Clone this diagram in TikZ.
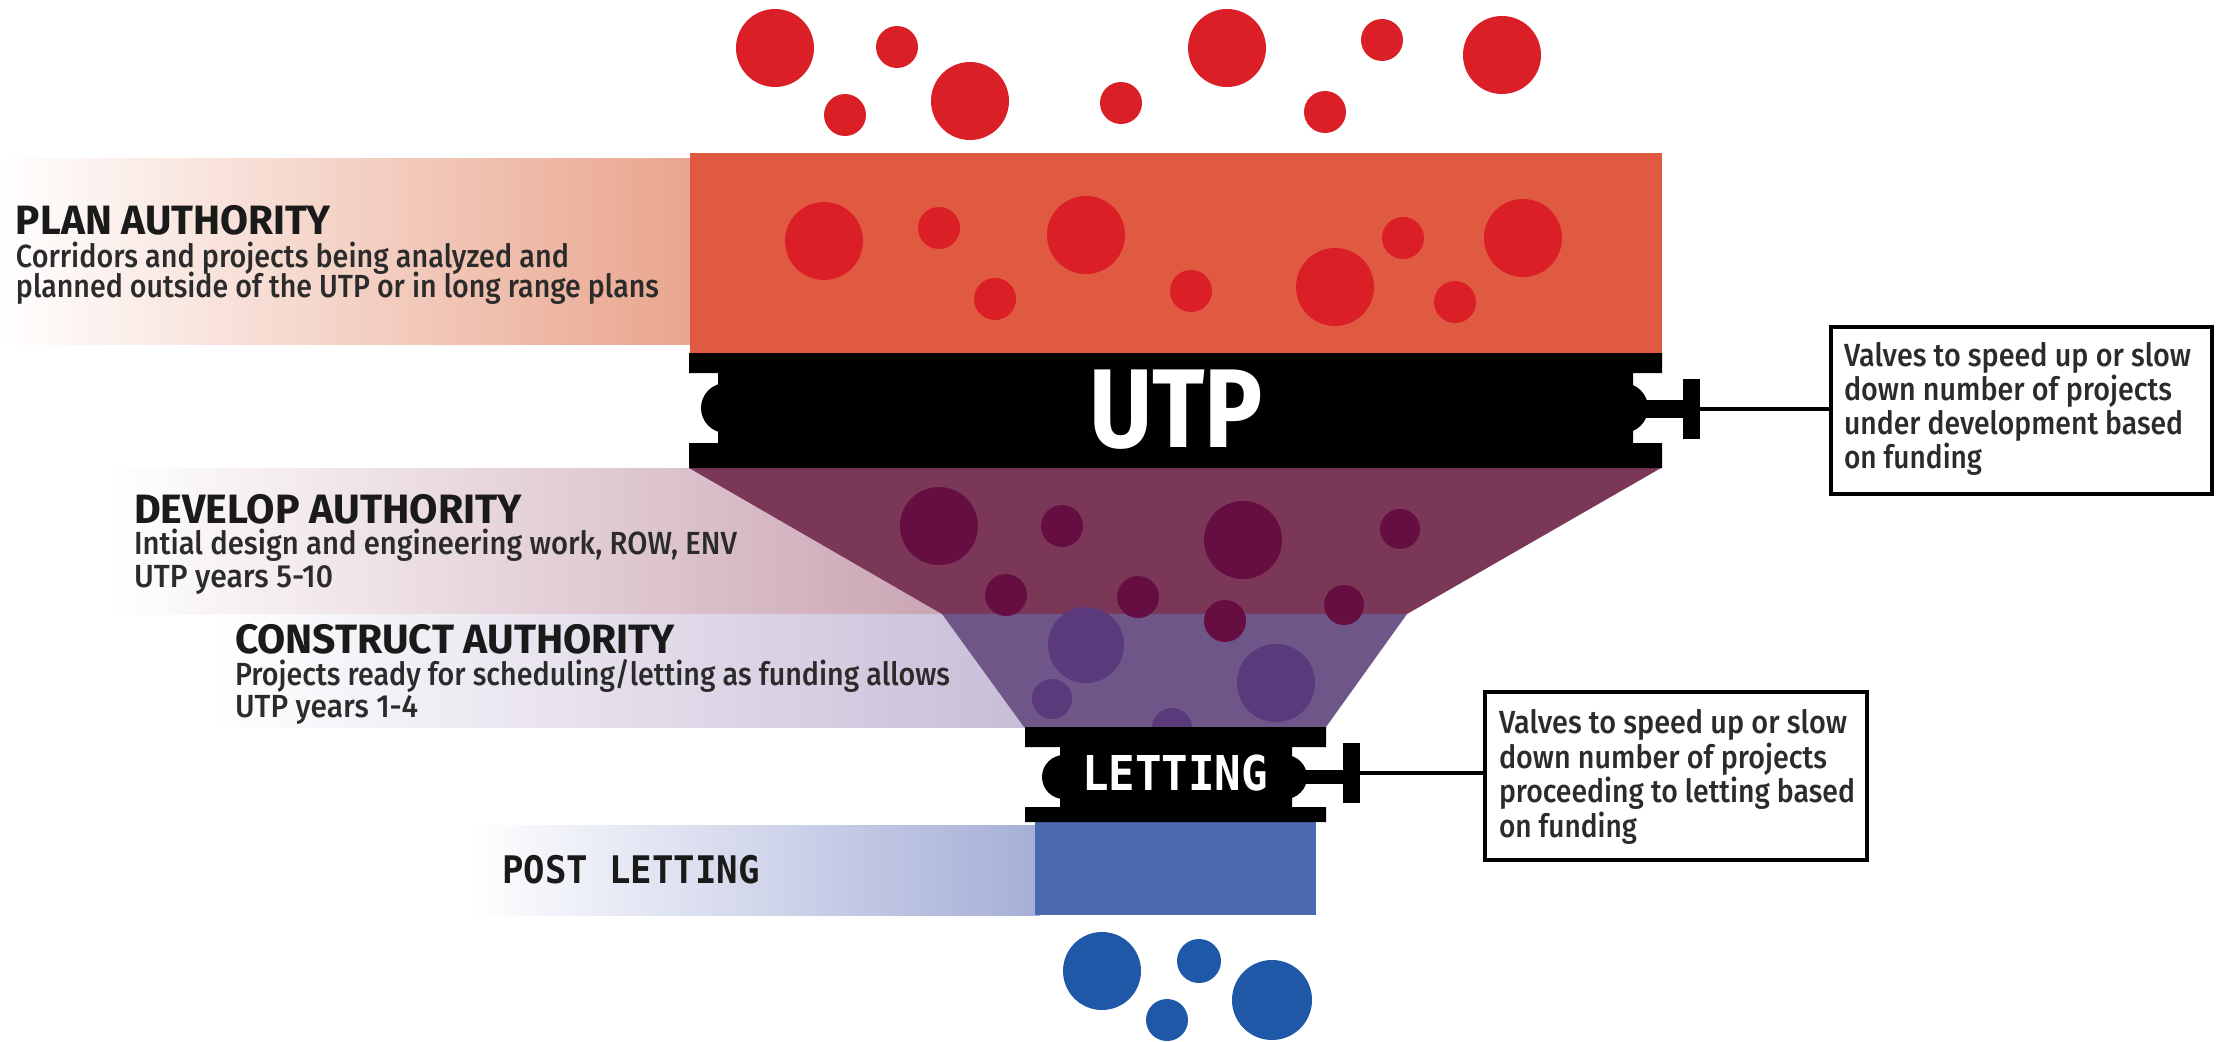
\documentclass[tikz,border=0pt]{standalone}
\usepackage{fontspec}
\setmainfont{Fira Sans}
\newfontfamily\bodyf{Fira Sans Medium}
\newfontfamily\monof{DejaVu Sans Mono}
\usepackage{graphicx}
\newcommand{\fitw}[2]{\resizebox{#1pt}{\height}{#2}}
\definecolor{planstrip}{HTML}{E9A48C}
\definecolor{devstrip}{HTML}{C9A3B2}
\definecolor{constrip}{HTML}{C8BDD7}
\definecolor{poststrip}{HTML}{A5AFD7}
\definecolor{redc}{HTML}{DB1F27}
\definecolor{orangec}{HTML}{E05A41}
\definecolor{devc}{HTML}{7B3757}
\definecolor{devdot}{HTML}{660E42}
\definecolor{conc}{HTML}{6E5689}
\definecolor{condot}{HTML}{5B3A7B}
\definecolor{bluec}{HTML}{4B69AF}
\definecolor{bluedot}{HTML}{2058A8}
\definecolor{headc}{HTML}{1A1A1A}
\definecolor{bodyc}{HTML}{2B2B2B}
\tikzset{
  lbl/.style={inner sep=0pt, outer sep=0pt, anchor=base west},
  headtxt/.style={lbl, text=headc, font=\fontsize{41}{41}\selectfont\bfseries},
  bodytxt/.style={lbl, text=bodyc, font=\fontsize{32}{32}\selectfont\bodyf},
  boxtxt/.style={lbl, text=bodyc, font=\fontsize{32}{32}\selectfont\bodyf},
  valvebox/.style={draw=black, line width=4pt, fill=white, anchor=north west, inner sep=0pt, outer sep=0pt},
  tbar/.style={fill=black, inner sep=0pt, outer sep=0pt, minimum width=17pt},
  conn/.style={draw=black, line width=4pt},
}
\begin{document}
\begin{tikzpicture}[x=1pt,y=-1pt]
\useasboundingbox (0,0) rectangle (2221,1041);
\fill[white] (0,0) rectangle (2221,1041);

% label strips
\shade[left color=white, right color=planstrip] (0,158) rectangle (700,344);
\shade[left color=white, right color=devstrip] (110,468) rectangle (960,614);
\shade[left color=white, right color=constrip] (210,614) rectangle (1030,727);
\shade[left color=white, right color=poststrip] (470,825) rectangle (1040,915);

% top red dots
\foreach \cx/\cy/\r in {775/48/39, 897/47/21, 845/115/21, 970/101/39, 1121/103/21, 1227/48/39, 1325/112/21, 1382/40/21, 1502/55/39}
  \fill[redc] (\cx,\cy) circle[radius=\r pt];

% orange plan section
\fill[orangec] (690,153) rectangle (1662,353);
\foreach \cx/\cy/\r in {824/241/39, 939/228/21, 995/299/21, 1086/235/39, 1191/291/21, 1335/287/39, 1403/238/21, 1455/302/21, 1523/238/39}
  \fill[redc] (\cx,\cy) circle[radius=\r pt];

% develop and construct funnel
\fill[devc] (689,468) -- (1661,468) -- (1407,614) -- (942,614) -- cycle;
\fill[conc] (942,614) -- (1407,614) -- (1326,727) -- (1024,727) -- cycle;
\foreach \cx/\cy/\r in {939/526/39, 1062/526/21, 1243/540/39, 1400/529/20, 1006/595/21, 1138/597/21, 1225/621/21, 1344/605/20}
  \fill[devdot] (\cx,\cy) circle[radius=\r pt];
\foreach \cx/\cy/\r in {1086/645/38, 1052/699/20, 1276/683/39, 1172/728/20}
  \fill[condot] (\cx,\cy) circle[radius=\r pt];

% post letting
\fill[bluec] (1035,822) rectangle (1316,915);
\foreach \cx/\cy/\r in {1102/971/39, 1199/961/22, 1272/1000/40, 1167/1020/21}
  \fill[bluedot] (\cx,\cy) circle[radius=\r pt];

% UTP valve band
\fill[black] (689,353) -- (1662,353) -- (1662,373) -- (1633,373) -- (1633,443) -- (1662,443) -- (1662,468) -- (689,468) -- (689,443) -- (718,443) -- (718,373) -- (689,373) -- cycle;
\fill[black] (726,408) circle[radius=25pt];
\fill[black] (1623,408) circle[radius=25pt];
\fill[black] (1640,400) rectangle (1685,418);
\node[tbar, minimum height=60pt] (t1) at (1691.5,409) {};
\node[inner sep=0pt, anchor=base, text=white, font=\fontsize{112}{112}\selectfont\bfseries] (utp) at (1176,447) {\fitw{174}{UTP}};

% LETTING valve band
\fill[black] (1025,727) -- (1326,727) -- (1326,747) -- (1292,747) -- (1292,807) -- (1326,807) -- (1326,822) -- (1025,822) -- (1025,807) -- (1060,807) -- (1060,747) -- (1025,747) -- cycle;
\fill[black] (1064,777) circle[radius=22pt];
\fill[black] (1285,777) circle[radius=22pt];
\fill[black] (1300,770) rectangle (1345,784);
\node[tbar, minimum height=60pt] (t2) at (1351.5,773) {};
\node[inner sep=0pt, anchor=base, text=white, font=\fontsize{48}{48}\selectfont\monof\bfseries] (letting) at (1175,790) {\fitw{186}{LETTING}};

% valve boxes
\node[valvebox, minimum width=381pt, minimum height=167pt] (box1) at (1831,327) {};
\node[valvebox, minimum width=382pt, minimum height=168pt] (box2) at (1485,692) {};
\draw[conn] (t1.east) -- (t1.east -| box1.west);
\draw[conn] (t2.east) -- (t2.east -| box2.west);

\node[boxtxt] (b1a) at (1844,366) {\fitw{347}{Valves to speed up or slow}};
\node[boxtxt] (b1b) at (1844,400) {\fitw{328}{down number of projects}};
\node[boxtxt] (b1c) at (1844,434) {\fitw{339}{under development based}};
\node[boxtxt] (b1d) at (1844,468) {\fitw{138}{on funding}};

\node[boxtxt] (b2a) at (1499,733) {\fitw{348}{Valves to speed up or slow}};
\node[boxtxt] (b2b) at (1499,768) {\fitw{328}{down number of projects}};
\node[boxtxt] (b2c) at (1499,802) {\fitw{356}{proceeding to letting based}};
\node[boxtxt] (b2d) at (1499,837) {\fitw{138}{on funding}};

% left labels
\node[headtxt] (planh) at (16,234) {\fitw{315}{PLAN AUTHORITY}};
\node[bodytxt] (plana) at (16,267) {\fitw{553}{Corridors and projects being analyzed and}};
\node[bodytxt] (planb) at (16,297) {\fitw{643}{planned outside of the UTP or in long range plans}};

\node[headtxt] (devh) at (134,523) {\fitw{388}{DEVELOP AUTHORITY}};
\node[bodytxt] (deva) at (134,554) {\fitw{603}{Intial design and engineering work, ROW, ENV}};
\node[bodytxt] (devb) at (134,587) {\fitw{199}{UTP years 5-10}};

\node[headtxt] (conh) at (235,653) {\fitw{440}{CONSTRUCT AUTHORITY}};
\node[bodytxt] (cona) at (235,685) {\fitw{715}{Projects ready for scheduling/letting as funding allows}};
\node[bodytxt] (conb) at (235,717) {\fitw{183}{UTP years 1-4}};

\node[lbl, text=headc, font=\fontsize{38}{38}\selectfont\monof\bfseries] (posth) at (502,883) {\fitw{258}{POST LETTING}};
\end{tikzpicture}
\end{document}
